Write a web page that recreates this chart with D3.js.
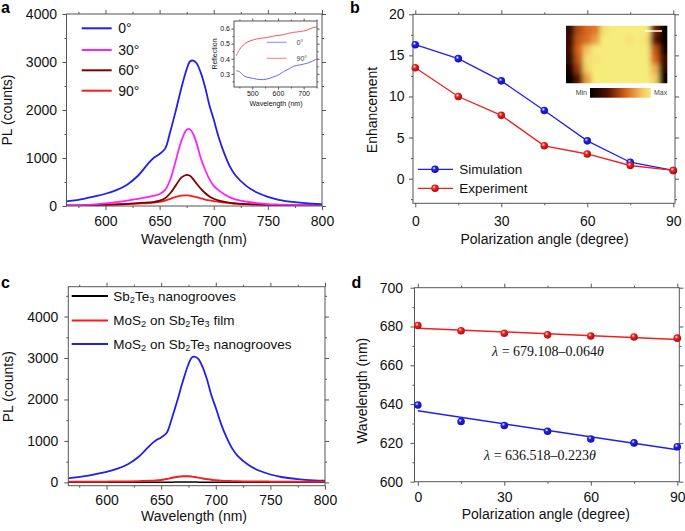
<!DOCTYPE html>
<html><head><meta charset="utf-8">
<script src="https://cdn.jsdelivr.net/npm/d3@7"></script>
<style>body{margin:0;background:#fff}svg{display:block;font-family:"Liberation Sans",Arial,sans-serif}</style>
</head><body><script>
// ---------- DATA ----------
// Panel a: PL spectra vs polarization angle
const wl = [564,580,590,600,610,620,630,640,645,650,655,660,665,670,675,678,681,684,688,692,696,700,705,710,715,720,730,740,750,760,775,790,800];
const pl0  = [95,150,200,255,330,445,630,900,1010,1085,1190,1560,1990,2450,2850,3010,3030,2980,2780,2480,2100,1800,1400,1080,820,640,420,280,190,130,80,50,40];
const pl30 = [10,20,35,55,80,110,150,190,215,250,330,560,950,1350,1590,1600,1500,1320,1000,760,560,420,320,240,180,140,90,60,40,30,20,15,10];
const pl60 = [5,10,15,25,35,45,60,75,85,110,160,270,430,590,650,630,560,470,360,270,200,150,110,85,65,55,40,30,25,20,15,12,10];
const pl90 = [10,15,20,25,30,40,50,60,70,85,110,150,190,215,220,215,200,185,160,135,115,100,85,70,60,50,40,32,25,20,15,12,10];
const legendA = ["0°","30°","60°","90°"];
// Panel a inset: reflection
const insWl = [438,450,465,480,504,530,556,582,605,622,645,661,687,713,735,752];
const refl0  = [0.32,0.315,0.29,0.278,0.27,0.262,0.265,0.28,0.295,0.315,0.335,0.35,0.36,0.37,0.385,0.40];
const refl90 = [0.42,0.46,0.49,0.51,0.525,0.535,0.54,0.55,0.555,0.56,0.57,0.575,0.58,0.59,0.605,0.61];
// Panel b: enhancement vs polarization angle
const angles = [0,15,30,45,60,75,90];
const simulation = [16.3,14.6,11.9,8.3,4.6,2.0,1.0];
const experiment = [13.5,10.0,7.7,4.0,3.0,1.6,1.0];
// Panel b inset: normalized PL map (rows top->bottom)
const heatGrid = [
  [0.15,0.50,0.60,0.65,0.95,1,1,1,1,1,0.35,0.00],
  [0.20,0.55,0.62,0.75,1,1,1,0.96,1,0.95,0.30,0.00],
  [0.20,0.60,0.85,1,1,1,1,1,1,1,0.55,0.10],
  [0.15,0.55,0.95,0.97,1,1,1,1,1,1,0.60,0.20],
  [0.08,0.45,0.90,1,1,1,1,1,1,1,0.80,0.15],
  [0.00,0.30,0.75,1,1,1,1,1,1,1,0.90,0.05]
];
// Panel c: PL comparison
const plFilm   = [15,15,16,18,20,24,30,40,48,60,80,110,135,150,148,140,130,115,95,78,62,52,42,35,30,26,22,20,18,16,15,15,15];
const plGroove = [2,2,2,2,2,2,3,3,3,4,5,6,7,8,8,7,7,6,5,5,4,4,3,3,3,3,2,2,2,2,2,2,2];
// Panel d: peak wavelength vs angle
const peakA = [680.5,677.8,676.5,675.7,675.1,674.6,674.0];
const peakB = [639.5,631.0,629.0,626.0,622.0,620.0,618.0];
const fitA = [679.108,-0.064];
const fitB = [636.518,-0.223];

// ---------- SETUP ----------
const svg = d3.select("body").append("svg").attr("width",685).attr("height",531);
const defs = svg.append("defs");
const FONT = '"Liberation Sans",Arial,sans-serif';
const BLUE="#1f1ff2", MAG="#ff20ff", DRED="#800000", RED="#f51d1d", BLACK="#000";

function sphereGrad(id,c){
  const g=defs.append("radialGradient").attr("id",id).attr("cx","38%").attr("cy","35%").attr("r","65%");
  g.append("stop").attr("offset","0%").attr("stop-color","#fff");
  g.append("stop").attr("offset","35%").attr("stop-color",c);
  g.append("stop").attr("offset","100%").attr("stop-color",d3.color(c).darker(1.2));
}
sphereGrad("sb",BLUE); sphereGrad("sr",RED);

function frame(g,x,y,o){
  const [x0,x1]=x.range(), [y0,y1]=y.range();
  const fs=o.fs||14, col="#555";
  function ax(gen,scale,vals,size,tr,fmt,pad){
    const a=g.append("g").attr("transform",tr)
      .call(gen(scale).tickValues(vals).tickSizeInner(size).tickSizeOuter(0).tickPadding(pad||0).tickFormat(fmt||(()=>"")));
    a.attr("font-size",fs).attr("font-family",FONT);
    a.select(".domain").remove();
    a.selectAll("line").attr("stroke",col);
    a.selectAll("text").attr("fill","#111");
    return a;
  }
  const ts=o.ts||4, tm=o.tm||2;
  ax(d3.axisBottom,x,o.xMajor,ts,`translate(0,${y0})`,o.xFmt||(d=>d),o.xPad);
  ax(d3.axisBottom,x,o.xMinor,tm,`translate(0,${y0})`);
  ax(d3.axisTop,x,o.xMajor,ts,`translate(0,${y1})`);
  ax(d3.axisTop,x,o.xMinor,tm,`translate(0,${y1})`);
  ax(d3.axisLeft,y,o.yMajor,ts,`translate(${x0},0)`,o.yFmt||(d=>d),o.yPad);
  ax(d3.axisLeft,y,o.yMinor,tm,`translate(${x0},0)`);
  ax(d3.axisRight,y,o.yMajor,ts,`translate(${x1},0)`);
  ax(d3.axisRight,y,o.yMinor,tm,`translate(${x1},0)`);
  g.append("rect").attr("x",x0).attr("y",y1).attr("width",x1-x0).attr("height",y0-y1)
    .attr("fill","none").attr("stroke",col).attr("stroke-width",1);
}
function clip(id,x,y){
  defs.append("clipPath").attr("id",id).append("rect")
    .attr("x",x.range()[0]).attr("y",y.range()[1])
    .attr("width",x.range()[1]-x.range()[0]).attr("height",y.range()[0]-y.range()[1]);
}
function text(g,s,x,y,o={}){
  const t=g.append("text").attr("x",x).attr("y",y).attr("font-size",o.fs||14)
    .attr("font-family",o.ff||FONT).attr("fill",o.fill||"#111");
  if(o.anchor) t.attr("text-anchor",o.anchor);
  if(o.weight) t.attr("font-weight",o.weight);
  if(o.rot) t.attr("transform",`rotate(${o.rot},${x},${y})`);
  if(o.dy) t.attr("dy",o.dy);
  t.text(s); return t;
}
function sub(t,parts,fs){ // parts: [text, isSub]
  parts.forEach(([s,isSub])=>{
    if(isSub) t.append("tspan").attr("font-size",fs*0.68).attr("baseline-shift","-22%").text(s);
    else t.append("tspan").text(s);
  });
}

// ---------- PANEL A ----------
{
  const g=svg.append("g");
  const x=d3.scaleLinear().domain([564,800]).range([66.5,322]);
  const y=d3.scaleLinear().domain([0,4000]).range([206,14]);
  clip("ca",x,y);
  const series=[[pl0,BLUE],[pl30,MAG],[pl60,DRED],[pl90,RED]];
  const line=d3.line().curve(d3.curveCatmullRom).x((d,i)=>x(wl[i])).y(d=>y(d));
  const pg=g.append("g").attr("clip-path","url(#ca)");
  series.slice().reverse().forEach(([v,c])=>pg.append("path").attr("d",line(v)).attr("fill","none").attr("stroke",c).attr("stroke-width",1.8));
  frame(g,x,y,{xMajor:[600,650,700,750,800],xMinor:d3.range(575,800,25).filter(d=>d%50),
    yMajor:[0,1000,2000,3000,4000],yMinor:[500,1500,2500,3500],xPad:6.5,yPad:5.5});
  text(g,"Wavelength (nm)",194,244,{anchor:"middle"});
  text(g,"PL (counts)",12,110,{anchor:"middle",rot:-90});
  text(g,"a",1,13,{fs:16,weight:"bold",fill:"#000"});
  const ly=[28.3,50,70.3,90.7];
  series.forEach(([v,c],i)=>{
    g.append("line").attr("x1",81.7).attr("x2",111.7).attr("y1",ly[i]).attr("y2",ly[i]).attr("stroke",c).attr("stroke-width",2);
    text(g,legendA[i],118.3,ly[i],{dy:"0.35em"});
  });
  // inset
  const ix=d3.scaleLinear().domain([429,752]).range([234,317]);
  const iy=d3.scaleLinear().domain([0.213,0.65]).range([87,21]);
  clip("cai",ix,iy);
  const il=d3.line().curve(d3.curveCatmullRom).x((d,i)=>ix(insWl[i])).y(d=>iy(d));
  const ig=g.append("g").attr("clip-path","url(#cai)");
  ig.append("path").attr("d",il(refl90)).attr("fill","none").attr("stroke","#f55").attr("stroke-width",1);
  ig.append("path").attr("d",il(refl0)).attr("fill","none").attr("stroke","#66f").attr("stroke-width",1);
  frame(g,ix,iy,{fs:7,ts:2.5,tm:1.5,xMajor:[500,600,700],xMinor:[450,550,650,750],
    yMajor:[0.3,0.4,0.5,0.6],yMinor:[0.25,0.35,0.45,0.55],yFmt:d3.format(".1f"),xPad:2,yPad:1.5});
  text(g,"Wavelength (nm)",276,106,{anchor:"middle",fs:7});
  text(g,"Reflection",217,54,{anchor:"middle",fs:7,rot:-90});
  [[42.3,"#88f","0°"],[58.3,"#f77","90°"]].forEach(([yy,c,s])=>{
    g.append("line").attr("x1",266.7).attr("x2",286.7).attr("y1",yy).attr("y2",yy).attr("stroke",c).attr("stroke-width",1);
    text(g,s,296.5,yy,{fs:7,dy:"0.35em",fill:"#444"});
  });
}

// ---------- PANEL B ----------
{
  const g=svg.append("g");
  const x=d3.scaleLinear().domain([-0.8,90.6]).range([413,675]);
  const y=d3.scaleLinear().domain([-3,20]).range([203.3,14.3]);
  frame(g,x,y,{xMajor:[0,30,60,90],xMinor:[15,45,75],yMajor:[0,5,10,15,20],yMinor:[-2.5,2.5,7.5,12.5,17.5],xPad:8.5,yPad:4.5});
  const line=d3.line().x((d,i)=>x(angles[i])).y(d=>y(d));
  [[simulation,BLUE,"sb"],[experiment,RED,"sr"]].forEach(([v,c,gid])=>{
    g.append("path").attr("d",line(v)).attr("fill","none").attr("stroke",c).attr("stroke-width",1.3);
    g.selectAll(null).data(v).join("circle").attr("cx",(d,i)=>x(angles[i])).attr("cy",d=>y(d)).attr("r",3.8).attr("fill",`url(#${gid})`);
  });
  text(g,"Polarization angle (degree)",544.5,244,{anchor:"middle"});
  text(g,"Enhancement",376.5,110,{anchor:"middle",rot:-90});
  text(g,"b",350,13,{fs:16,weight:"bold",fill:"#000"});
  [[169.3,BLUE,"sb","Simulation"],[188.3,RED,"sr","Experiment"]].forEach(([yy,c,gid,s])=>{
    g.append("line").attr("x1",418).attr("x2",453).attr("y1",yy).attr("y2",yy).attr("stroke",c).attr("stroke-width",1.3);
    g.append("circle").attr("cx",435).attr("cy",yy).attr("r",3.8).attr("fill",`url(#${gid})`);
    text(g,s,459.3,yy,{dy:"0.35em",fs:13.5});
  });
  // inset map
  const hx=d3.scaleBand().domain(d3.range(heatGrid[0].length)).range([566,667.3]);
  const hy=d3.scaleBand().domain(d3.range(heatGrid.length)).range([25.7,83.3]);
  const cmapD=[0,0.3,0.6,0.85,1], cmapR=["#000000","#5a1200","#d8671c","#f2c462","#f6ec7c"];
  const cmap=d3.scaleLinear().domain(cmapD).range(cmapR);
  defs.append("clipPath").attr("id","ch").append("rect").attr("x",566).attr("y",25.7).attr("width",101.3).attr("height",57.6);
  const f=defs.append("filter").attr("id","blur").attr("x","-20%").attr("y","-20%").attr("width","140%").attr("height","140%");
  f.append("feGaussianBlur").attr("stdDeviation",2.6);
  const hg=g.append("g").attr("clip-path","url(#ch)").append("g").attr("filter","url(#blur)");
  heatGrid.forEach((row,r)=>row.forEach((v,c)=>{
    const ex=(c===0?-8:0), ew=(c===0||c===row.length-1?8:0), ey=(r===0?-8:0), eh=(r===0||r===heatGrid.length-1?8:0);
    hg.append("rect").attr("x",hx(c)+ex).attr("y",hy(r)+ey).attr("width",hx.bandwidth()+ew+0.5).attr("height",hy.bandwidth()+eh+0.5).attr("fill",cmap(v));
  }));
  g.append("line").attr("x1",645).attr("x2",662).attr("y1",31).attr("y2",31).attr("stroke","#fff").attr("stroke-width",1.5);
  const lg=defs.append("linearGradient").attr("id","cbar");
  cmapD.forEach((d,i)=>lg.append("stop").attr("offset",d*100+"%").attr("stop-color",cmapR[i]));
  g.append("rect").attr("x",590).attr("y",88).attr("width",61).attr("height",9.7).attr("fill","url(#cbar)");
  text(g,"Min",587,93,{anchor:"end",fs:7,dy:"0.35em",fill:"#444"});
  text(g,"Max",654,93,{fs:7,dy:"0.35em",fill:"#444"});
}

// ---------- PANEL C ----------
{
  const g=svg.append("g");
  const x=d3.scaleLinear().domain([565,800]).range([68.3,325]);
  const y=d3.scaleLinear().domain([-80,4720]).range([485.7,286.7]);
  clip("cc",x,y);
  const line=d3.line().curve(d3.curveCatmullRom).x((d,i)=>x(wl[i])).y(d=>y(d));
  const pg=g.append("g").attr("clip-path","url(#cc)");
  pg.append("path").attr("d",line(pl0)).attr("fill","none").attr("stroke",BLUE).attr("stroke-width",1.8);
  pg.append("path").attr("d",line(plGroove)).attr("fill","none").attr("stroke",BLACK).attr("stroke-width",1.5);
  pg.append("path").attr("d",line(plFilm)).attr("fill","none").attr("stroke",RED).attr("stroke-width",2);
  frame(g,x,y,{xMajor:[600,650,700,750,800],xMinor:d3.range(575,800,25).filter(d=>d%50),
    yMajor:[0,1000,2000,3000,4000],yMinor:[500,1500,2500,3500,4500],xPad:5,yPad:6});
  text(g,"Wavelength (nm)",194,520.5,{anchor:"middle"});
  text(g,"PL (counts)",13.5,386.7,{anchor:"middle",rot:-90});
  text(g,"c",1,288,{fs:16,weight:"bold",fill:"#000"});
  const leg=[
    [296,BLACK,[["Sb",0],["2",1],["Te",0],["3",1],[" nanogrooves",0]]],
    [320.5,RED,[["MoS",0],["2",1],[" on Sb",0],["2",1],["Te",0],["3",1],["  film",0]]],
    [344,BLUE,[["MoS",0],["2",1],[" on Sb",0],["2",1],["Te",0],["3",1],[" nanogrooves",0]]]
  ];
  leg.forEach(([yy,c,parts])=>{
    g.append("line").attr("x1",71.7).attr("x2",108).attr("y1",yy).attr("y2",yy).attr("stroke",c).attr("stroke-width",2);
    const t=text(g,"",113.3,yy+4.8,{fs:13.5});
    sub(t,parts,13.5);
  });
}

// ---------- PANEL D ----------
{
  const g=svg.append("g");
  const x=d3.scaleLinear().domain([-1.15,90.7]).range([414.5,679.3]);
  const y=d3.scaleLinear().domain([600,700]).range([481.7,287.7]);
  frame(g,x,y,{xMajor:[0,30,60,90],xMinor:[15,45,75],yMajor:[600,620,640,660,680,700],yMinor:[610,630,650,670,690],xPad:6.5,yPad:7.5});
  [[peakA,fitA,RED,"sr"],[peakB,fitB,BLUE,"sb"]].forEach(([v,fit,c,gid])=>{
    g.append("line").attr("x1",x(0)).attr("x2",x(90)).attr("y1",y(fit[0])).attr("y2",y(fit[0]+fit[1]*90)).attr("stroke",c).attr("stroke-width",1.5);
    g.selectAll(null).data(v).join("circle").attr("cx",(d,i)=>x(angles[i])).attr("cy",d=>y(d)).attr("r",3.8).attr("fill",`url(#${gid})`);
  });
  const eq=(cx,cy,fit)=>{
    const t=g.append("text").attr("x",cx).attr("y",cy).attr("text-anchor","middle").attr("font-size",14)
      .attr("font-family",'"Liberation Serif","Times New Roman",serif').attr("fill","#111").attr("dy","0.35em");
    t.append("tspan").attr("font-style","italic").text("λ");
    t.append("tspan").text(` = ${fit[0].toFixed(3)}–${(-fit[1]).toFixed(3)}`);
    t.append("tspan").attr("font-style","italic").text("θ");
  };
  eq(548,350.7,fitA); eq(540,455,fitB);
  text(g,"Polarization angle (degree)",545.8,519,{anchor:"middle"});
  text(g,"Wavelength (nm)",366.7,390.8,{anchor:"middle",rot:-90});
  text(g,"d",351.5,288,{fs:16,weight:"bold",fill:"#000"});
}
</script></body></html>
